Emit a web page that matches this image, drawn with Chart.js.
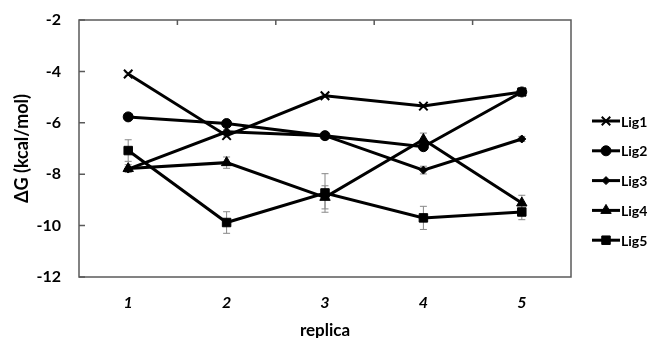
<!DOCTYPE html>
<html>
<head>
<meta charset="utf-8">
<script src="https://cdn.jsdelivr.net/npm/chart.js@4.4.1/dist/chart.umd.min.js"></script>
<style>
  html, body { margin: 0; padding: 0; background: #fff; }
  #wrap { width: 654px; height: 338px; }
</style>
</head>
<body>
<div id="wrap"><canvas id="dgChart" width="654" height="338"></canvas></div>
<script>
// ─── DATA ───
const replicas = ['1', '2', '3', '4', '5'];
const ligNames = ['Lig1', 'Lig2', 'Lig3', 'Lig4', 'Lig5'];

const lig1 = [-4.10, -6.50, -4.95, -5.35, -4.80];
const lig2 = [-5.77, -6.03, -6.50, -6.93, -4.80];
const lig3 = [-7.80, -6.35, -6.50, -7.84, -6.63];
const lig4 = [-7.78, -7.55, -8.90, -6.65, -9.12];
const lig5 = [-7.08, -9.88, -8.73, -9.70, -9.47];

// standard deviations (error bars)
const lig1Err = [0.05, 0.05, 0.05, 0.05, 0.05];
const lig2Err = [0.08, 0.08, 0.08, 0.10, 0.08];
const lig3Err = [0.08, 0.08, 0.08, 0.15, 0.10];
const lig4Err = [0.15, 0.22, 0.45, 0.25, 0.30];
const lig5Err = [0.42, 0.42, 0.75, 0.45, 0.30];

const yTicks = { min: -12, max: -2, step: 2 };

const FONT = 'Lato, "Open Sans", sans-serif';

// ─── DATASETS ───
const series = [
    { label: ligNames[0], data: lig1, err: lig1Err, style: 'crossRot', radius: 6, bw: 2 },
    { label: ligNames[1], data: lig2, err: lig2Err, style: 'circle', radius: 5, bw: 1 },
    { label: ligNames[2], data: lig3, err: lig3Err, style: 'rectRot', radius: 4, bw: 1 },
    { label: ligNames[3], data: lig4, err: lig4Err, style: 'triangle', radius: 6, bw: 1 },
    { label: ligNames[4], data: lig5, err: lig5Err, style: 'rect', radius: 6, bw: 1 }
];

const datasets = series.map(s => ({
    label: s.label,
    data: s.data,
    errors: s.err,
    borderColor: '#000',
    backgroundColor: '#000',
    borderWidth: 3,
    tension: 0,
    fill: false,
    pointStyle: s.style,
    pointRadius: s.radius,
    pointBorderWidth: s.bw,
    pointBorderColor: '#000',
    pointBackgroundColor: '#000'
}));

// ─── ERROR BARS ───
const errorBars = {
    id: 'errorBars',
    beforeDatasetsDraw(chart) {
        const ctx = chart.ctx;
        const y = chart.scales.y;
        ctx.save();
        ctx.strokeStyle = '#888';
        ctx.lineWidth = 1;
        chart.data.datasets.forEach((ds, i) => {
            const meta = chart.getDatasetMeta(i);
            meta.data.forEach((pt, j) => {
                const e = ds.errors[j];
                const top = y.getPixelForValue(ds.data[j] + e);
                const bot = y.getPixelForValue(ds.data[j] - e);
                ctx.beginPath();
                ctx.moveTo(pt.x, top); ctx.lineTo(pt.x, bot);
                ctx.moveTo(pt.x - 3.5, top); ctx.lineTo(pt.x + 3.5, top);
                ctx.moveTo(pt.x - 3.5, bot); ctx.lineTo(pt.x + 3.5, bot);
                ctx.stroke();
            });
        });
        ctx.restore();
    }
};

// ─── FRAME + INWARD TICKS ───
const frame = {
    id: 'frame',
    afterDraw(chart) {
        const { ctx, chartArea: a, scales } = chart;
        ctx.save();
        ctx.strokeStyle = '#5a5a5a';
        ctx.lineWidth = 1.5;
        ctx.strokeRect(a.left, a.top, a.right - a.left, a.bottom - a.top);
        ctx.beginPath();
        scales.y.ticks.forEach(t => {
            const py = scales.y.getPixelForValue(t.value);
            ctx.moveTo(a.left, py); ctx.lineTo(a.left + 6, py);
        });
        for (let i = 0; i < replicas.length - 1; i++) {
            const px = (scales.x.getPixelForValue(i) + scales.x.getPixelForValue(i + 1)) / 2;
            ctx.moveTo(px, a.top); ctx.lineTo(px, a.top + 5);
        }
        ctx.stroke();
        ctx.restore();
    }
};

// ─── LEGEND (line through marker) ───
const sideLegend = {
    id: 'sideLegend',
    afterDraw(chart) {
        const ctx = chart.ctx;
        const x0 = chart.chartArea.right + 21;
        ctx.save();
        chart.data.datasets.forEach((ds, i) => {
            const cy = 121 + i * 29.8;
            ctx.strokeStyle = '#000';
            ctx.lineWidth = 3;
            ctx.beginPath();
            ctx.moveTo(x0, cy); ctx.lineTo(x0 + 28, cy);
            ctx.stroke();
            ctx.fillStyle = '#000';
            ctx.lineWidth = ds.pointBorderWidth;
            Chart.helpers.drawPoint(ctx, {
                pointStyle: ds.pointStyle,
                radius: ds.pointRadius,
                borderWidth: ds.pointBorderWidth
            }, x0 + 14, cy);
            ctx.fillStyle = '#000';
            ctx.font = 'bold 14px ' + FONT;
            ctx.textBaseline = 'middle';
            ctx.textAlign = 'left';
            ctx.fillText(ds.label, x0 + 29, cy + 1);
        });
        ctx.restore();
    }
};

// ─── CREATE THE CHART ───
const ctx = document.getElementById('dgChart').getContext('2d');
const dgChart = new Chart(ctx, {
    type: 'line',
    data: { labels: replicas, datasets: datasets },
    options: {
        responsive: false,
        animation: false,
        layout: { padding: { top: 20, right: 83, left: 0, bottom: 0 } },
        plugins: {
            legend: { display: false },
            tooltip: { enabled: false }
        },
        scales: {
            x: {
                type: 'category',
                offset: true,
                grid: { display: false, drawTicks: false },
                border: { display: false },
                ticks: {
                    padding: 16,
                    color: '#000',
                    font: { family: FONT, size: 16, weight: 'bold', style: 'italic' }
                },
                title: {
                    display: true,
                    text: 'replica',
                    color: '#000',
                    padding: 0,
                    font: { family: FONT, size: 17, weight: 'bold', lineHeight: 0.9 }
                },
                afterFit: s => { s.height = 61; s.paddingLeft = 0; s.paddingRight = 0; }
            },
            y: {
                min: yTicks.min,
                max: yTicks.max,
                grid: { display: false, drawTicks: false },
                border: { display: false },
                ticks: {
                    stepSize: yTicks.step,
                    padding: 18,
                    color: '#000',
                    font: { family: FONT, size: 16, weight: 'bold' }
                },
                title: {
                    display: true,
                    text: 'ΔG (kcal/mol)',
                    color: '#000',
                    padding: { top: 11 },
                    font: { family: FONT, size: 18, weight: 'bold' }
                },
                afterFit: s => { s.width = 79; s.paddingTop = 0; s.paddingBottom = 0; }
            }
        }
    },
    plugins: [errorBars, frame, sideLegend]
});
</script>
</body>
</html>
